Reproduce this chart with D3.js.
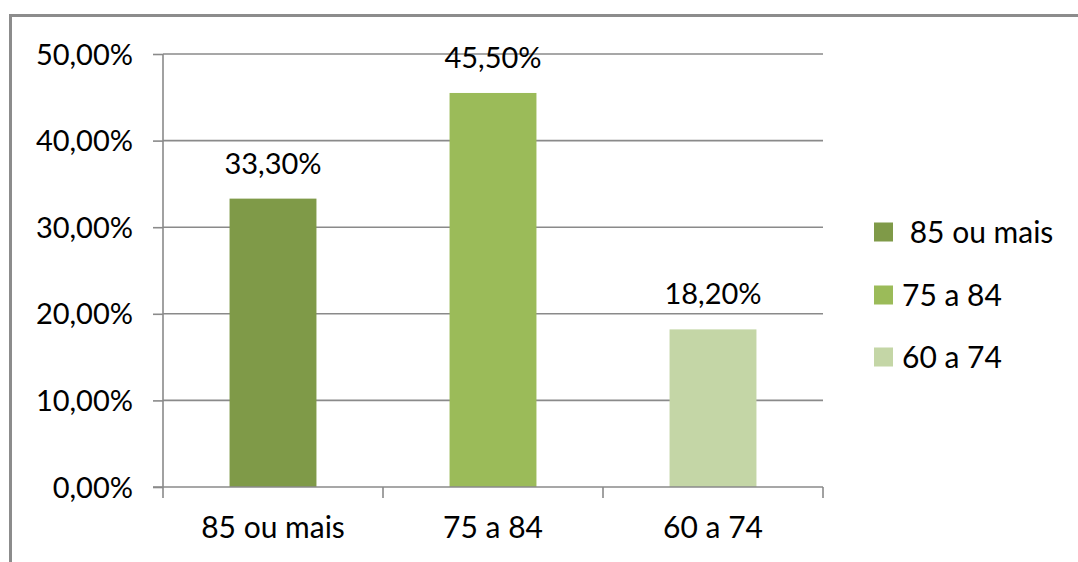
<!DOCTYPE html>
<html><head><meta charset="utf-8">
<script src="https://cdn.jsdelivr.net/npm/d3@7"></script>
<style>
body{margin:0;background:#fff}
svg{display:block}
.lbl{font-family:Lato,"Open Sans",sans-serif;fill:#000}
</style>
</head><body>
<svg id="c" width="1078" height="562"></svg>
<script>
// ---- data ----
const categories = ["85 ou mais", "75 a 84", "60 a 74"];
const values = [0.333, 0.455, 0.182];
const legendLabels = [" 85 ou mais", "75 a 84", "60 a 74"];
const yTicks = [0, 0.1, 0.2, 0.3, 0.4, 0.5];
const colors = ["#7f9a48", "#9bbb59", "#c4d6a6"];

// ---- layout ----
const svg = d3.select("#c");
const W = 1078, H = 562;
const plot = {left: 163, right: 823, top: 54, bottom: 487};
const fs = 29, fsCat = 30;

const loc = d3.formatLocale({decimal: ",", thousands: ".", grouping: [3], currency: ["R$", ""]});
const pct = loc.format(".2%");

const y = d3.scaleLinear().domain([0, 0.5]).range([plot.bottom, plot.top]);
const x = d3.scaleBand().domain(categories).range([plot.left, plot.right])
  .paddingInner(0.605).paddingOuter(0.3025);

// frame
svg.append("line").attr("x1", 9).attr("x2", W).attr("y1", 15.5).attr("y2", 15.5)
  .attr("stroke", "#8c8c8c").attr("stroke-width", 3);
svg.append("line").attr("x1", 10.5).attr("x2", 10.5).attr("y1", 14).attr("y2", H)
  .attr("stroke", "#8c8c8c").attr("stroke-width", 3);

const gridColor = "#8a8a8a";

// gridlines
svg.append("g").selectAll("line").data(yTicks.filter(d => d > 0)).join("line")
  .attr("x1", plot.left).attr("x2", plot.right)
  .attr("y1", d => y(d)).attr("y2", d => y(d))
  .attr("stroke", gridColor).attr("stroke-width", 1.6);

// y axis
const yAxis = svg.append("g").attr("transform", `translate(${plot.left},0)`)
  .call(d3.axisLeft(y).tickValues(yTicks).tickFormat(pct).tickSize(10).tickPadding(20));
yAxis.select(".domain").attr("stroke", gridColor).attr("stroke-width", 1.6)
  .attr("d", `M0,${plot.top}V${plot.bottom}`);
yAxis.selectAll(".tick line").attr("stroke", gridColor).attr("stroke-width", 1.6);
yAxis.selectAll(".tick text").attr("class", "lbl").style("font-size", fs + "px").attr("dy", "0.35em");

// bars
svg.append("g").selectAll("rect").data(values).join("rect")
  .attr("x", (d, i) => x(categories[i]))
  .attr("width", x.bandwidth())
  .attr("y", d => y(d))
  .attr("height", d => y(0) - y(d))
  .attr("fill", (d, i) => colors[i]);

// x axis
const xAxis = svg.append("g").attr("transform", `translate(0,${plot.bottom})`)
  .call(d3.axisBottom(x).tickSize(0).tickPadding(0));
xAxis.select(".domain").attr("stroke", gridColor).attr("stroke-width", 1.6)
  .attr("d", `M${plot.left - 10},0H${plot.right}`);
xAxis.selectAll(".tick text").attr("class", "lbl").style("font-size", fsCat + "px")
  .attr("dy", 0).attr("y", 51);
// category boundary ticks
const edges = categories.map((c, i) => plot.left + i * x.step()).concat([plot.right]);
xAxis.append("g").selectAll("line").data(edges).join("line")
  .attr("x1", d => d).attr("x2", d => d).attr("y1", 0).attr("y2", 11)
  .attr("stroke", gridColor).attr("stroke-width", 1.6);

// data labels
svg.append("g").selectAll("text").data(values).join("text")
  .attr("class", "lbl").style("font-size", fs + "px")
  .attr("text-anchor", "middle")
  .attr("x", (d, i) => x(categories[i]) + x.bandwidth() / 2)
  .attr("y", d => y(d) - 25)
  .text(d => pct(d));

// legend
const leg = svg.append("g");
const legY = [232, 295, 357];
legendLabels.forEach((t, i) => {
  leg.append("rect").attr("x", 874).attr("y", legY[i] - 9.5).attr("width", 19).attr("height", 19)
    .attr("fill", colors[i]);
  leg.append("text").attr("class", "lbl").style("font-size", fsCat + "px")
    .style("white-space", "pre").attr("xml:space", "preserve")
    .attr("x", 902).attr("y", legY[i]).attr("dy", "0.35em").text(t);
});
</script>
</body></html>
